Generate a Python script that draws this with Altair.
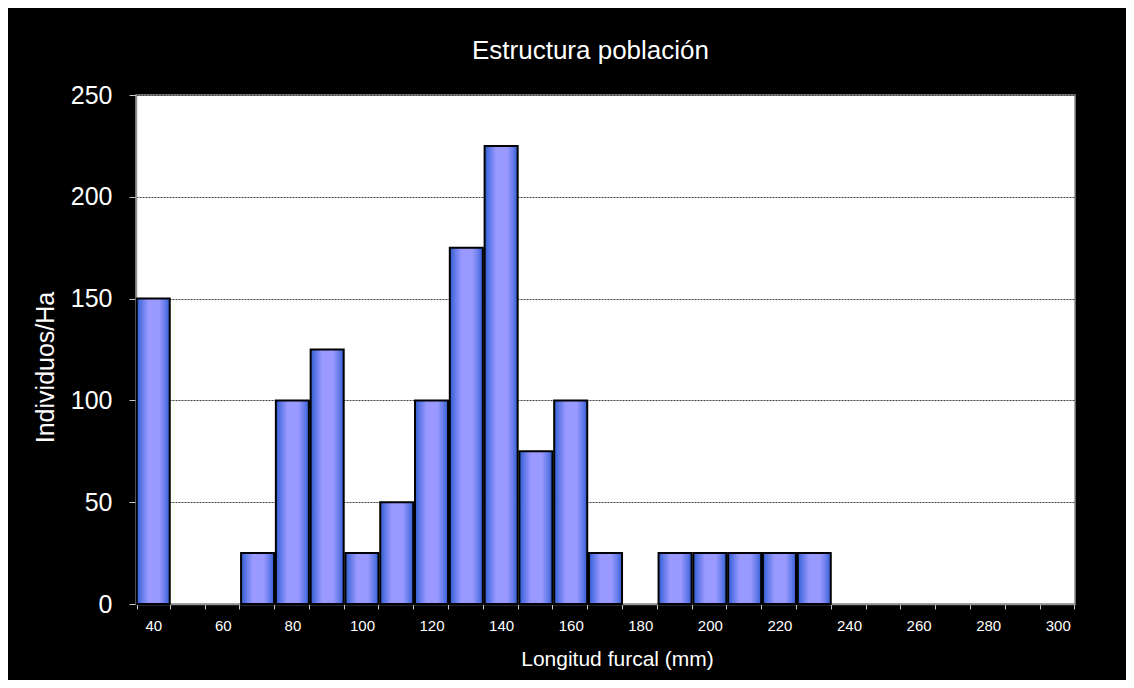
import altair as alt
import pandas as pd

# Data
longitud = [40, 50, 60, 70, 80, 90, 100, 110, 120, 130, 140, 150, 160, 170, 180,
            190, 200, 210, 220, 230, 240, 250, 260, 270, 280, 290, 300]
individuos = [150, 0, 0, 25, 100, 125, 25, 50, 100, 175, 225, 75, 100, 25, 0,
              25, 25, 25, 25, 25, 0, 0, 0, 0, 0, 0, 0]
x_labels = ["40", "60", "80", "100", "120", "140", "160", "180", "200", "220",
            "240", "260", "280", "300"]
y_ticks = [0, 50, 100, 150, 200, 250]

df = pd.DataFrame({"Longitud": longitud, "Individuos": individuos})
df = df[df["Individuos"] > 0]

FONT = "Liberation Sans"
label_list = ",".join("'" + s + "'" for s in x_labels)
label_expr = f"indexof([{label_list}], datum.label) >= 0 ? datum.label : ''"

grad = alt.Gradient(
    gradient="linear",
    x1=0, x2=1, y1=0, y2=0,
    stops=[
        alt.GradientStop(color="#2f5ccc", offset=0),
        alt.GradientStop(color="#5f78e8", offset=0.15),
        alt.GradientStop(color="#9999ff", offset=0.35),
        alt.GradientStop(color="#9999ff", offset=0.68),
        alt.GradientStop(color="#5f78e8", offset=0.88),
        alt.GradientStop(color="#2f5ccc", offset=1),
    ],
)

bars = alt.Chart(df).mark_bar(fill=grad, stroke="black", strokeWidth=2).encode(
    x=alt.X(
        "Longitud:O",
        scale=alt.Scale(domain=longitud, paddingInner=0.05, paddingOuter=0.02),
        axis=alt.Axis(
            title="Longitud furcal (mm)",
            labelAngle=0,
            labelExpr=label_expr,
            tickBand="extent",
            tickSize=5,
            tickColor="#c8c8c8",
            domainColor="#909090",
            domainWidth=1.5,
            labelColor="white",
            labelFont=FONT,
            labelFontSize=15,
            labelBaseline="alphabetic",
            labelPadding=21,
            grid=False,
            titleColor="white",
            titleFont=FONT,
            titleFontSize=21,
            titleFontWeight="normal",
            titleBaseline="alphabetic",
            titleX=481,
            titleY=61,
        ),
    ),
    y=alt.Y(
        "Individuos:Q",
        scale=alt.Scale(domain=[0, 250]),
        axis=alt.Axis(
            title="Individuos/Ha",
            values=y_ticks,
            grid=True,
            gridColor="#404040",
            gridDash=[2, 1],
            gridWidth=1,
            tickSize=7,
            tickColor="#c8c8c8",
            domainColor="#909090",
            domainWidth=1.5,
            labelColor="white",
            labelFont=FONT,
            labelFontSize=25,
            labelPadding=17,
            titleColor="white",
            titleFont=FONT,
            titleFontSize=25,
            titleFontWeight="normal",
            titleAngle=270,
            titleAlign="center",
            titleBaseline="alphabetic",
            titleX=-83,
            titleY=272,
        ),
    ),
)

chart = bars.properties(
    width=939,
    height=509,
    background="black",
    autosize=alt.AutoSizeParams(type="none"),
    padding={"left": 128, "top": 87, "right": 51, "bottom": 76},
    title=alt.TitleParams(
        "Estructura población",
        color="white",
        font=FONT,
        fontSize=26,
        fontWeight="normal",
        anchor="middle",
        frame="group",
        dx=-15,
        offset=-2,
        baseline="alphabetic",
    ),
).configure_view(stroke="#909090", strokeWidth=1.5, fill="white")

chart.save("out.html", embed_options={"renderer": "svg", "actions": False})
